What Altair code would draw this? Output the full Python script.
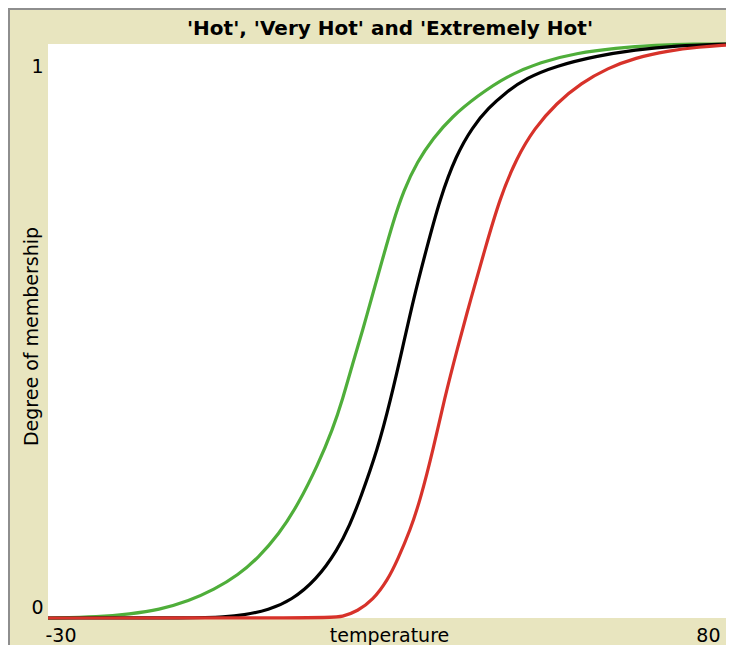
import altair as alt
import pandas as pd

# Series (temperature, degree of membership)
temp_hot = [-30, -21.6, -16.8, -12.0, -7.1, -3.1, 0.9, 4.1, 7.4, 10.6, 13.8, 16.2, 17.8,
            19.4, 21.1, 22.7, 24.3, 25.9, 27.7, 29.9, 32.5, 35.5, 39.6, 44.4, 50.0, 55.7,
            62.1, 68.6, 75.0, 80]
hot = [0, 0.002, 0.007, 0.014, 0.030, 0.049, 0.075, 0.105, 0.145, 0.198, 0.267, 0.329,
       0.381, 0.442, 0.503, 0.565, 0.626, 0.687, 0.745, 0.795, 0.836, 0.873, 0.909, 0.944,
       0.969, 0.984, 0.993, 0.998, 1.0, 1.0]

temp_very = [-30, -5.5, -1.5, 1.7, 5.8, 9.5, 13.5, 17.0, 19.0, 20.6, 23.5, 25.6, 27.5,
             29.3, 31.4, 33.6, 36.2, 38.9, 41.5, 44.1, 47.6, 52.5, 58.9, 65.3, 71.8, 80]
very_hot = [0, 0, 0.002, 0.005, 0.014, 0.031, 0.066, 0.119, 0.163, 0.206, 0.294, 0.381,
            0.469, 0.556, 0.643, 0.731, 0.806, 0.856, 0.889, 0.914, 0.941, 0.962, 0.979,
            0.990, 0.997, 1.0]

temp_ext = [-30, 15.4, 17.8, 20.2, 22.7, 25.1, 26.7, 28.8, 30.4, 32.5, 34.3, 36.4, 38.6,
            40.9, 43.3, 46.0, 48.9, 52.5, 56.5, 60.8, 65.3, 70.5, 75.8, 80]
extremely_hot = [0, 0, 0.002, 0.012, 0.031, 0.066, 0.101, 0.154, 0.206, 0.294, 0.381,
                 0.469, 0.556, 0.643, 0.731, 0.801, 0.853, 0.897, 0.932, 0.958, 0.976,
                 0.988, 0.995, 0.998]

series_names = ["Hot", "Very Hot", "Extremely Hot"]
series_colors = ["#4FAE3A", "#000000", "#D7322A"]
x_ticks = [-30, 80]
y_ticks = [0, 1]
chart_title = "'Hot', 'Very Hot' and 'Extremely Hot'"

FONT = "DejaVu Sans"
PLOT_W = 678
PLOT_H = 574

x_scale = alt.Scale(domain=[-30, 80], nice=False, zero=False)
y_scale = alt.Scale(domain=[0, 1], nice=False, zero=False)

x_axis = alt.Axis(
    values=x_ticks, title="temperature", grid=False, domain=False, ticks=False, tickSize=0,
    labelExpr="datum.value + ''",
    labelFont=FONT, labelFontSize=19, labelColor="black", labelBaseline="alphabetic",
    labelPadding=23, labelFlush=False, labelOverlap=False,
    labelAlign={"condition": {"test": "datum.value == -30", "value": "left"}, "value": "right"},
    labelOffset={"condition": {"test": "datum.value == -30", "value": -3}, "value": -6},
    titleFont=FONT, titleFontSize=19, titleFontWeight="normal", titleColor="black",
    titleBaseline="alphabetic", titleAlign="center", titleX=341, titleY=23,
)
y_axis = alt.Axis(
    values=y_ticks, title="Degree of membership", grid=False, domain=False, ticks=False,
    tickSize=0, labelExpr="datum.value + ''",
    labelFont=FONT, labelFontSize=19, labelColor="black",
    labelBaseline="alphabetic", labelAlign="center", labelPadding=11, labelOverlap=False,
    labelOffset={"condition": {"test": "datum.value == 1", "value": 28}, "value": -5},
    titleFont=FONT, titleFontSize=19, titleFontWeight="normal", titleColor="black",
    titleBaseline="alphabetic", titleAlign="center", titleAngle=270, titleX=-11, titleY=292,
)


def series_layer(temps, values, name, color):
    df = pd.DataFrame({"temperature": temps, "membership": values, "series": name})
    return alt.Chart(df).mark_line(
        color=color, strokeWidth=3.2, interpolate="basis", clip=False
    ).encode(
        x=alt.X("temperature:Q", scale=x_scale, axis=x_axis),
        y=alt.Y("membership:Q", scale=y_scale, axis=y_axis),
        detail="series:N",
    )


frame_df = pd.DataFrame({"label": [chart_title]})
frame_left = alt.Chart(frame_df).mark_rule(color="#8E8E8E", strokeWidth=2).encode(
    x=alt.value(-39), y=alt.value(-36), y2=alt.value(610)
)
frame_top = alt.Chart(frame_df).mark_rule(color="#8E8E8E", strokeWidth=2).encode(
    x=alt.value(-40), x2=alt.value(PLOT_W), y=alt.value(-35)
)
title_text = alt.Chart(frame_df).mark_text(
    font=FONT, fontSize=20, fontWeight="bold", color="black",
    align="center", baseline="alphabetic",
).encode(
    text="label:N", x=alt.value(342), y=alt.value(-9)
)

chart = alt.layer(
    frame_left,
    frame_top,
    title_text,
    series_layer(temp_hot, hot, series_names[0], series_colors[0]),
    series_layer(temp_very, very_hot, series_names[1], series_colors[1]),
    series_layer(temp_ext, extremely_hot, series_names[2], series_colors[2]),
).properties(
    width=PLOT_W,
    height=PLOT_H,
    background="#E8E5BF",
    padding={"left": 40, "top": 36, "right": 0, "bottom": 27},
    autosize=alt.AutoSizeParams(type="none"),
).configure_view(
    fill="white", strokeWidth=0
)

chart.save("out.html", embed_options={"renderer": "svg", "actions": False})
